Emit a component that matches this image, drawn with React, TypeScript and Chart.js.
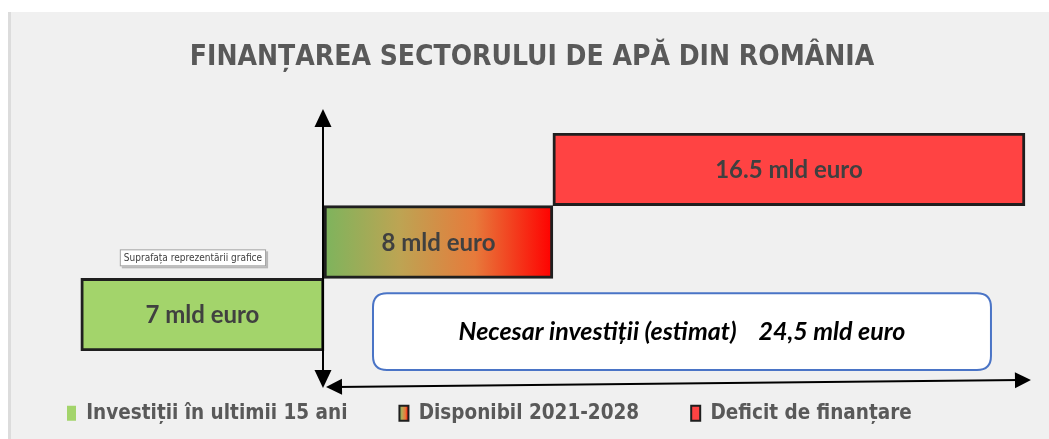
import React, { useEffect, useRef } from "react";
import { Chart, registerables } from "chart.js";

Chart.register(...registerables);

// ---- data ----
const titleText = "FINANȚAREA SECTORULUI DE APĂ DIN ROMÂNIA";
const categories = ["Investiții în ultimii 15 ani", "Disponibil 2021-2028", "Deficit de finanțare"];
const amounts = [7, 8, 16.5]; // mld euro
const barStarts = [-8.5, 0, 8];
const barEnds = [0, 8, 24.5];
const barLabels = ["7 mld euro", "8 mld euro", "16.5 mld euro"];
const totalNeed = 24.5;
const totalLabel = "Necesar investiții (estimat)    24,5 mld euro";
const noteText = "Suprafața reprezentării grafice";
const xMin = -10.8;
const xMax = 25.34;

const NARROW = "'Liberation Sans Narrow', 'DejaVu Sans Condensed', 'Open Sans', sans-serif";
const GREEN = "#a3d46b";
const RED = "#ff4343";
const BORDER = "#1f1f1f";

function makeGradient(ctx: CanvasRenderingContext2D, x0: number, x1: number) {
  const g = ctx.createLinearGradient(x0, 0, x1, 0);
  g.addColorStop(0, "#7db45d");
  g.addColorStop(0.33, "#bda453");
  g.addColorStop(0.66, "#e77a3b");
  g.addColorStop(1, "#ff0000");
  return g;
}

function roundRect(ctx: CanvasRenderingContext2D, x: number, y: number, w: number, h: number, r: number) {
  ctx.beginPath();
  ctx.moveTo(x + r, y);
  ctx.lineTo(x + w - r, y);
  ctx.quadraticCurveTo(x + w, y, x + w, y + r);
  ctx.lineTo(x + w, y + h - r);
  ctx.quadraticCurveTo(x + w, y + h, x + w - r, y + h);
  ctx.lineTo(x + r, y + h);
  ctx.quadraticCurveTo(x, y + h, x, y + h - r);
  ctx.lineTo(x, y + r);
  ctx.quadraticCurveTo(x, y, x + r, y);
  ctx.closePath();
}

function arrowHead(ctx: CanvasRenderingContext2D, tipX: number, tipY: number, angle: number, len: number, half: number) {
  ctx.save();
  ctx.translate(tipX, tipY);
  ctx.rotate(angle);
  ctx.beginPath();
  ctx.moveTo(0, 0);
  ctx.lineTo(-len, -half);
  ctx.lineTo(-len, half);
  ctx.closePath();
  ctx.fill();
  ctx.restore();
}

const backgroundPlugin = {
  id: "bgPanel",
  beforeDraw(chart: any) {
    const { ctx, width, height } = chart;
    ctx.save();
    ctx.fillStyle = "#ffffff";
    ctx.fillRect(0, 0, width, height);
    ctx.fillStyle = "#f0f0f0";
    ctx.fillRect(8, 12, width - 8, height - 12);
    ctx.fillStyle = "#dcdcdc";
    ctx.fillRect(8, 12, 3, height - 12);
    ctx.restore();
  },
};

const legendGradientPlugin = {
  id: "legendGradient",
  afterUpdate(chart: any) {
    const lg = chart.legend;
    if (!lg || !lg.legendItems || !lg.legendHitBoxes) return;
    const hb = lg.legendHitBoxes[1];
    if (!hb) return;
    const bw = lg.options.labels.boxWidth;
    lg.legendItems[1].fillStyle = makeGradient(chart.ctx, hb.left, hb.left + bw);
  },
};

const decorPlugin = {
  id: "decor",
  beforeDatasetsDraw(chart: any) {
    const { ctx, chartArea, scales } = chart;
    const xs = scales.x;
    const x0 = xs.getPixelForValue(0);
    const xEnd = xs.getPixelForValue(totalNeed);
    const greenMeta = chart.getDatasetMeta(0).data[0] as any;
    ctx.save();
    // white rounded box for total need
    const bx = x0 + 49;
    const bw = xEnd - 34 - bx;
    const by = greenMeta.y - greenMeta.height / 2 + 15;
    const bh = chartArea.bottom + 19 - by;
    roundRect(ctx, bx, by, bw, bh, 14);
    ctx.fillStyle = "#ffffff";
    ctx.fill();
    ctx.lineWidth = 2;
    ctx.strokeStyle = "#4a74c6";
    ctx.stroke();
    ctx.fillStyle = "#000000";
    ctx.font = "italic bold 25px Lato, 'Open Sans', sans-serif";
    ctx.textAlign = "center";
    ctx.textBaseline = "middle";
    ctx.fillText(totalLabel, bx + bw / 2, by + bh / 2);

    // note box ("tooltip")
    const gLeft = Math.min(greenMeta.x, greenMeta.base);
    const nTop = greenMeta.y - greenMeta.height / 2 - 29;
    ctx.font = `10px ${NARROW}`;
    const tw = ctx.measureText(noteText).width;
    const nx = gLeft + 39;
    const nw = tw + 8;
    const nh = 17;
    ctx.fillStyle = "#b8b8b8";
    ctx.fillRect(nx + 2, nTop + 2, nw, nh);
    ctx.fillStyle = "#ffffff";
    ctx.fillRect(nx, nTop, nw, nh);
    ctx.strokeStyle = "#a0a0a0";
    ctx.lineWidth = 1;
    ctx.strokeRect(nx + 0.5, nTop + 0.5, nw - 1, nh - 1);
    ctx.fillStyle = "#404040";
    ctx.textAlign = "left";
    ctx.fillText(noteText, nx + 4, nTop + nh / 2 + 0.5);
    ctx.restore();
  },
  afterDatasetsDraw(chart: any) {
    const { ctx, chartArea, scales } = chart;
    const xs = scales.x;
    const x0 = xs.getPixelForValue(0);
    const xEnd = xs.getPixelForValue(totalNeed);
    ctx.save();
    // bar labels
    ctx.fillStyle = "#404040";
    ctx.font = "bold 24px Lato, 'Open Sans', sans-serif";
    ctx.textAlign = "center";
    ctx.textBaseline = "middle";
    for (let i = 0; i < barLabels.length; i++) {
      const el = chart.getDatasetMeta(i).data[i] as any;
      ctx.fillText(barLabels[i], (el.x + el.base) / 2, el.y + 1);
    }
    // axes arrows
    ctx.strokeStyle = "#000000";
    ctx.fillStyle = "#000000";
    ctx.lineWidth = 2;
    const vTop = chartArea.top - 24;
    const vBottom = chartArea.bottom + 37;
    ctx.beginPath();
    ctx.moveTo(x0 - 1, vTop + 10);
    ctx.lineTo(x0 - 1, vBottom - 8);
    ctx.stroke();
    arrowHead(ctx, x0 - 1, vTop, -Math.PI / 2, 18, 8.5);
    arrowHead(ctx, x0 - 1, vBottom, Math.PI / 2, 18, 8.5);
    const hyL = chartArea.bottom + 36;
    const hyR = chartArea.bottom + 29;
    const hxL = x0 + 2;
    const hxR = xEnd + 6;
    ctx.beginPath();
    ctx.moveTo(hxL + 10, hyL);
    ctx.lineTo(hxR - 10, hyR);
    ctx.stroke();
    const ang = Math.atan2(hyR - hyL, hxR - hxL);
    arrowHead(ctx, hxL, hyL, ang + Math.PI, 16, 8);
    arrowHead(ctx, hxR, hyR, ang, 16, 8);
    ctx.restore();
  },
};

export default function App() {
  const ref = useRef<HTMLCanvasElement | null>(null);
  useEffect(() => {
    if (!ref.current) return;
    const datasets = categories.map((name, i) => ({
      label: name,
      data: categories.map((_, j) => (j === i ? [barStarts[i], barEnds[i]] : null)),
      backgroundColor:
        i === 0
          ? GREEN
          : i === 2
          ? RED
          : (c: any) => {
              const chart = c.chart;
              const xs = chart.scales && chart.scales.x;
              if (!xs) return "#c89048";
              const a = xs.getPixelForValue(barStarts[1]);
              const b = xs.getPixelForValue(barEnds[1]);
              if (!isFinite(a) || !isFinite(b)) return "#c89048";
              return makeGradient(chart.ctx, a, b);
            },
      borderColor: BORDER,
      borderWidth: 3,
      borderSkipped: false,
      grouped: false,
      barPercentage: 1,
      categoryPercentage: 1,
      amount: amounts[i],
    }));
    const chart = new Chart(ref.current, {
      type: "bar",
      data: { labels: categories, datasets: datasets as any },
      options: {
        responsive: false,
        animation: false,
        indexAxis: "y",
        layout: { padding: { left: 15, right: 0, top: 0, bottom: 5.5 } },
        scales: {
          x: { type: "linear", min: xMin, max: xMax, display: false },
          y: { type: "category", reverse: true, display: false, offset: true },
        },
        plugins: {
          tooltip: { enabled: false },
          title: {
            display: true,
            text: titleText,
            color: "#595959",
            font: { family: NARROW, size: 28, weight: "bold", lineHeight: 1.2 },
            padding: { top: 41, bottom: 58.4 },
          },
          legend: {
            display: true,
            position: "bottom",
            align: "start",
            labels: {
              boxWidth: 9,
              boxHeight: 15,
              padding: 52,
              color: "#595959",
              font: { family: NARROW, size: 20.5, weight: "bold" },
              generateLabels: (ch: any) => {
                const items = (Chart as any).defaults.plugins.legend.labels.generateLabels(ch);
                items.forEach((it: any, i: number) => {
                  it.strokeStyle = BORDER;
                  it.lineWidth = i === 0 ? 0 : 2;
                  if (i === 0) it.fillStyle = GREEN;
                  if (i === 2) it.fillStyle = RED;
                });
                return items;
              },
            },
          },
        },
      },
      plugins: [backgroundPlugin, legendGradientPlugin, decorPlugin],
    });
    return () => chart.destroy();
  }, []);
  return (
    <div style={{ position: "absolute", left: 0, top: 0, width: 1049, height: 439 }}>
      <canvas ref={ref} width={1049} height={439} style={{ display: "block" }} />
    </div>
  );
}
